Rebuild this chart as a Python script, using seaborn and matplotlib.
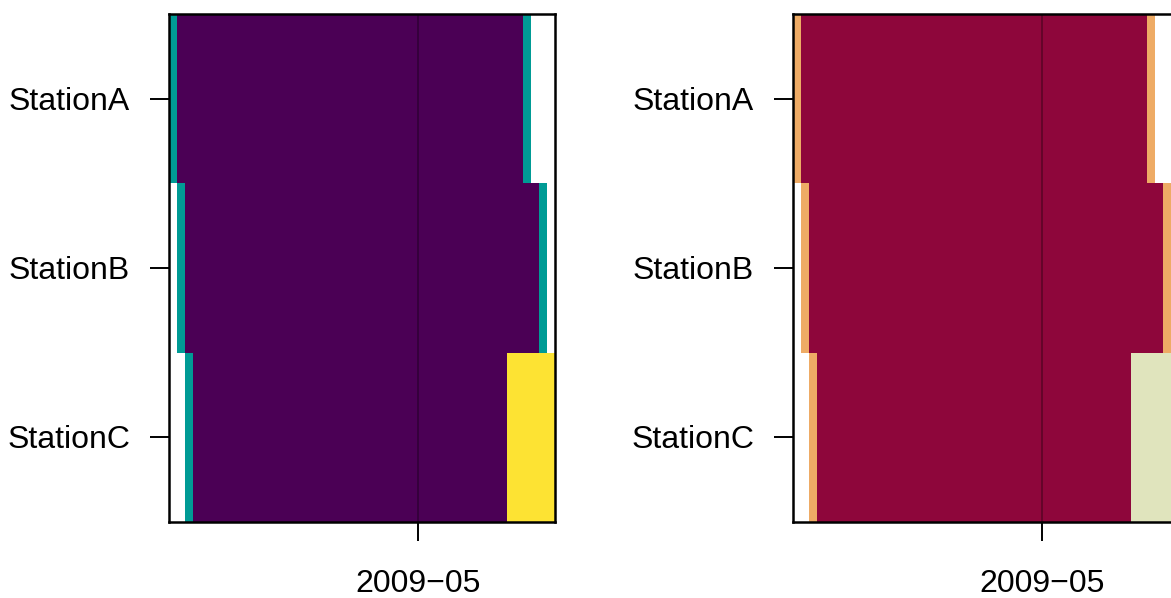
import numpy as np
import pandas as pd
import matplotlib
matplotlib.use("Agg")
import matplotlib.pyplot as plt
from matplotlib.colors import ListedColormap
from matplotlib.transforms import ScaledTranslation
import seaborn as sns

sns.set_theme(style="ticks")
plt.rcParams["font.family"] = ["Liberation Sans", "DejaVu Sans"]

# Daily data-availability status per station (1 = complete, 2 = partial, 3 = flagged, None = no data)
stations = ["StationA", "StationB", "StationC"]
start_date = "2009-03-31"
n_days = 48
N = None
status_a = [2] + [1] * 43 + [2] + [N] * 3
status_b = [N] + [2] + [1] * 44 + [2] + [N]
status_c = [N, N] + [2] + [1] * 39 + [3] * 6
tick_dates = ["2009-05-01"]
tick_labels = ["2009\u221205"]

palette_viridis = ["#4B0055", "#009B95", "#FDE333"]
palette_warm = ["#8E063B", "#EEAB65", "#E0E4BD"]

dates = pd.date_range(start_date, periods=n_days, freq="D")
grid = pd.DataFrame(
    np.array([status_a, status_b, status_c], dtype=float),
    index=stations,
    columns=dates,
)
tick_pos = [(pd.Timestamp(d) - dates[0]).days for d in tick_dates]

W, H = 1171, 598
fig = plt.figure(figsize=(W / 100, H / 100), dpi=100)

panel_left = [169, 793]
panel_width = 386
panel_top, panel_bottom = 14, 522

for left, colors in zip(panel_left, [palette_viridis, palette_warm]):
    ax = fig.add_axes([left / W, (H - panel_bottom) / H,
                       panel_width / W, (panel_bottom - panel_top) / H])
    sns.heatmap(grid, ax=ax, cmap=ListedColormap(colors), vmin=0.5, vmax=3.5,
                cbar=False, linewidths=0)
    ax.set_xlabel("")
    ax.set_ylabel("")
    ax.set_xticks(tick_pos)
    ax.set_xticklabels(tick_labels, rotation=0)
    ax.set_yticks(np.arange(len(stations)) + 0.5)
    ax.set_yticklabels(stations, rotation=0)
    for x in tick_pos:
        ax.axvline(x, color="black", alpha=0.35, lw=1.2)
    for s in ax.spines.values():
        s.set_visible(True)
        s.set_color("black")
        s.set_linewidth(1.8)
    ax.tick_params(axis="both", direction="out", length=14, width=1.4,
                   color="black", labelsize=23, labelcolor="black")
    ax.tick_params(axis="y", pad=14)
    ax.tick_params(axis="x", pad=20)
    shift = ScaledTranslation(0, -3 / 100, fig.dpi_scale_trans)
    for lab in ax.get_yticklabels():
        lab.set_transform(lab.get_transform() + shift)

fig.savefig("out.png", dpi=100)
